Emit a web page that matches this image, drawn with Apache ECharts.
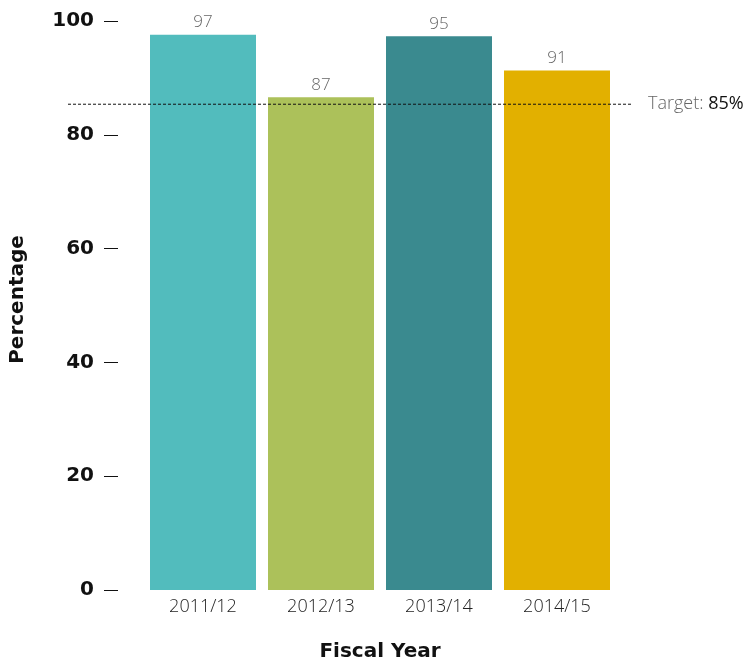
<!DOCTYPE html>
<html><head><meta charset="utf-8">
<script src="https://cdn.jsdelivr.net/npm/echarts@6/dist/echarts.min.js"></script>
<style>html,body{margin:0;padding:0;background:#fff}#c{width:749px;height:667px}</style>
</head><body><div id="c"></div>
<script>
const categories = ["2011/12", "2012/13", "2013/14", "2014/15"];
const barValues = [97.6, 86.6, 97.3, 91.3];
const barLabels = ["97", "87", "95", "91"];
const barColors = ["#52BCBD", "#ACC15A", "#3A8A8F", "#E2B000"];
const targetValue = 85.5;
const targetLabel = "85%";
const yTicks = [0, 20, 40, 60, 80, 100];

const chart = echarts.init(document.getElementById('c'), null, {renderer: 'canvas'});
const boldFont = '"DejaVu Sans", sans-serif';
const lightFont = '"Open Sans", sans-serif';
chart.setOption({
  animation: false,
  grid: [
    {left: 144, right: 133, top: 21, bottom: 72},
    {left: 68, right: 117, top: 21, bottom: 72}
  ],
  xAxis: [
    {
      type: 'category', gridIndex: 0, data: categories,
      axisLine: {show: false}, axisTick: {show: false},
      axisLabel: {color: '#222', fontFamily: lightFont, fontSize: 18, fontWeight: 300, margin: 8},
      name: 'Fiscal Year', nameLocation: 'middle', nameGap: 52,
      nameTextStyle: {color: '#111', fontFamily: boldFont, fontSize: 20, fontWeight: 'bold'}
    },
    {type: 'value', gridIndex: 1, min: 0, max: 1, show: false}
  ],
  yAxis: [
    {
      type: 'value', gridIndex: 0, min: 0, max: 100, interval: 20, offset: 26,
      splitLine: {show: false},
      axisLine: {show: false},
      axisTick: {show: true, length: 14, lineStyle: {color: '#111', width: 1}},
      axisLabel: {color: '#111', fontFamily: boldFont, fontSize: 20, fontWeight: 'bold', margin: 24,
        formatter: v => yTicks.includes(v) ? String(v) : ''},
      name: 'Percentage', nameLocation: 'middle', nameGap: 90, nameRotate: 90,
      nameTextStyle: {color: '#111', fontFamily: boldFont, fontSize: 20, fontWeight: 'bold', padding: [0, 0, 0, 12]}
    },
    {type: 'value', gridIndex: 1, min: 0, max: 100, show: false}
  ],
  series: [
    {
      type: 'bar', xAxisIndex: 0, yAxisIndex: 0, barWidth: 106,
      data: barValues.map((v, i) => ({value: v, itemStyle: {color: barColors[i]}})),
      label: {show: true, position: 'top', distance: 4, color: '#666', fontFamily: lightFont,
        fontSize: 17, fontWeight: 300, formatter: p => barLabels[p.dataIndex]},
      z: 2
    },
    {
      type: 'line', xAxisIndex: 1, yAxisIndex: 1, data: [[0, targetValue], [1, targetValue]],
      symbol: 'none', lineStyle: {color: '#111', width: 1, type: [3, 2]}, z: 5,
      endLabel: {show: true, distance: 16,
        formatter: () => '{a|Target: }{b|' + targetLabel + '}',
        rich: {a: {color: '#666', fontSize: 18, fontWeight: 300, fontFamily: lightFont},
               b: {color: '#111', fontSize: 18, fontWeight: 400, fontFamily: lightFont}}}
    }
  ]
});
</script></body></html>
